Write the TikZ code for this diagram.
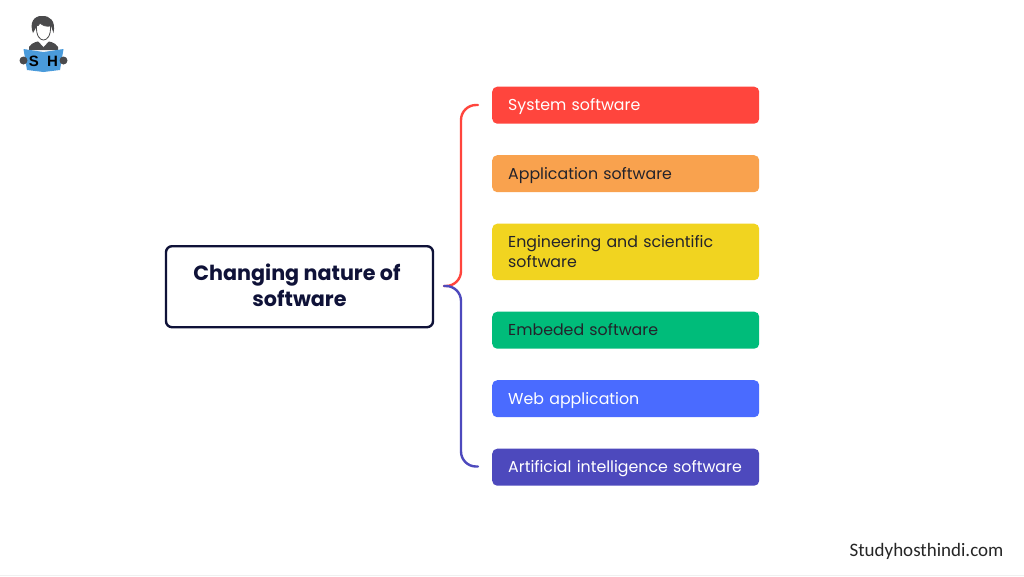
\documentclass[tikz,border=0pt]{standalone}
\usepackage{fontspec}
\setmainfont{Poppins}
\newfontfamily\wm{Carlito}
\newfontfamily\logofont{Liberation Sans}[Scale=1]
\definecolor{cred}{HTML}{FF453D}
\definecolor{corange}{HTML}{F9A24E}
\definecolor{cyellow}{HTML}{F1D420}
\definecolor{cgreen}{HTML}{00BC7A}
\definecolor{cblue}{HTML}{4A6BFF}
\definecolor{cpurple}{HTML}{4D49BD}
\definecolor{navy}{HTML}{0F1238}
\definecolor{ink}{HTML}{23232B}
\definecolor{logogray}{HTML}{4A4A4C}
\definecolor{logoblue}{HTML}{4A9BDB}
\tikzset{
  x=1pt,y=-1pt,
  item/.style={rounded corners=5pt,minimum width=267pt,anchor=north west,inner sep=0pt,text width=235pt,align=left,font=\fontsize{15.8}{19.5}\selectfont,text=#1,execute at begin node={\rule{0pt}{16.7pt}},execute at end node=\strut},
  bracket/.style={line width=2.4pt,rounded corners=15pt,line cap=round}
}
\begin{document}
\begin{tikzpicture}
\useasboundingbox (0,0) rectangle (1024,576);
\fill[white] (0,0) rectangle (1024,576);
\fill[black!6] (0,574.5) rectangle (1024,576);
% main node
\node[draw=navy,line width=2.4pt,rounded corners=6pt,minimum width=267pt,minimum height=81pt,align=center,font=\fontsize{20.7}{25.5}\selectfont\bfseries,text=navy,inner sep=0pt,anchor=north west] (main) at (164.8,245) {\hspace*{-5pt}\raisebox{3.5pt}{Changing nature of}\\\raisebox{2.5pt}{software}};
% items
\node[item=white,fill=cred,minimum height=37pt] (n1) at (492,86.5) {System software};
\node[item=ink,fill=corange,minimum height=37pt] (n2) at (492,155) {Application software};
\node[item=ink,fill=cyellow,minimum height=56.5pt] (n3) at (492,223.5) {Engineering and scientific\\software};
\node[item=ink,fill=cgreen,minimum height=37pt] (n4) at (492,311.5) {Embeded software};
\node[item=white,fill=cblue,minimum height=37pt] (n5) at (492,380) {Web application};
\node[item=white,fill=cpurple,minimum height=37pt] (n6) at (492,448.5) {Artificial intelligence software};
% brackets
\coordinate (hub) at (444,286);
\coordinate (top) at (478,105);
\coordinate (bot) at (478,466.5);
\draw[bracket,cred] (hub) -- (461,286) -- (461,105) -- (top);
\draw[bracket,cpurple] (hub) -- (461,286) -- (461,466.5) -- (bot);
% watermark
\node[font=\wm\fontsize{19}{22}\selectfont,text=black!85,inner sep=0pt] (wm) at (926.5,551.5) {Studyhosthindi.com};
% logo
\begin{scope}
\fill[logogray] (29,47) .. controls (32,42) and (38,41) .. (43,41) .. controls (49,41) and (55,42) .. (58,47) -- (58,50) -- (29,50) -- cycle;
\fill[white] (38,41) -- (49,41) -- (43.5,47) -- cycle;
\fill[logogray] (33,33) .. controls (29,23) and (34,15.5) .. (42,16) .. controls (50,15.5) and (56,21) .. (53.5,33) -- (51,26) -- (37,26) -- cycle;
\draw[logogray,line width=.8pt,fill=white] (36.5,26) .. controls (36,36) and (40,40) .. (43.5,40) .. controls (47,40) and (51,36) .. (50.5,26) .. controls (46,27) and (42,25) .. (40,23) .. controls (39,25) and (38,26) .. (36.5,26) -- cycle;
\fill[logoblue] (23.5,49) -- (43.5,52) -- (63.5,49) -- (60,70) -- (43.5,72) -- (27,70) -- cycle;
\fill[logogray] (23.5,60.5) circle (4pt);
\fill[logogray] (63.5,60.5) circle (4pt);
\node[font=\logofont\bfseries\fontsize{15}{15}\selectfont,text=black,inner sep=0pt] (ls) at (34,61) {S};
\node[font=\logofont\bfseries\fontsize{15}{15}\selectfont,text=black,inner sep=0pt] (lh) at (52.5,61) {H};
\end{scope}
\end{tikzpicture}
\end{document}
